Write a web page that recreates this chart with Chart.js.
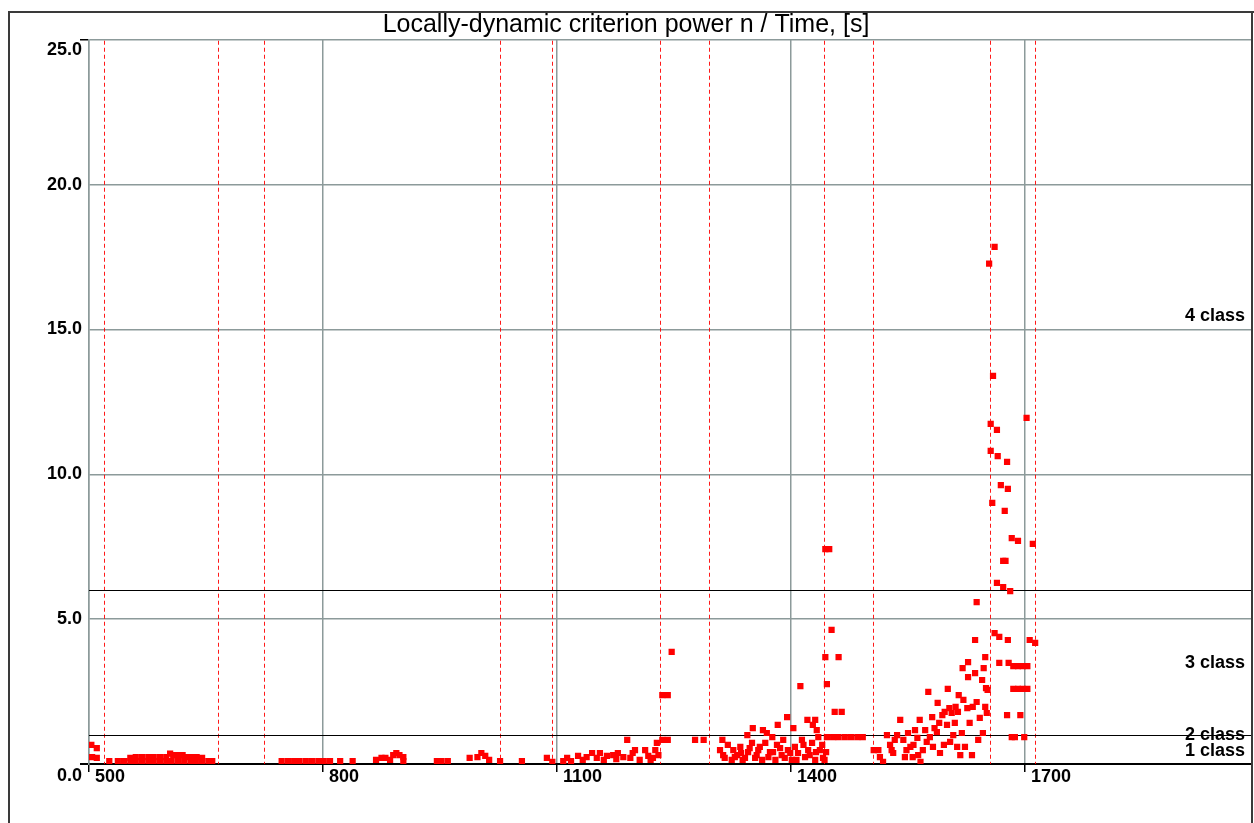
<!DOCTYPE html>
<html lang="en">
<head>
    <meta charset="UTF-8">
    <title>Locally-dynamic criterion power n / Time</title>
    <script src="https://cdn.jsdelivr.net/npm/chart.js"></script>
    <style>
        body { margin: 0; background: #fff; }
        #wrap { position: relative; width: 1254px; height: 823px; }
    </style>
</head>
<body>
    <div id="wrap"><canvas id="lcGraph" width="1254" height="823"></canvas></div>

    <script>
        // axis ticks
        const xTicks = [500, 800, 1100, 1400, 1700];
        const yTicks = [0, 5, 10, 15, 20, 25];

        // time of phase changes (red dashed lines), [s]
        const phaseBounds = [519, 665, 724, 1027, 1094, 1232, 1295, 1442, 1505, 1655, 1713];

        // class limits and class captions
        const classLimits = [1.0, 6.0];
        const classNames = ['1 class', '2 class', '3 class', '4 class'];
        const classLabelAt = [0.45, 1.0, 3.5, 15.47];

        // measured points [time, n]
        const ptsA = [[503,0.66],[510,0.55],[504,0.24],[510,0.21],[526,0.10],[537,0.10],[545,0.10],[553,0.10],[560,0.10],
            [568,0.10],[576,0.10],[583,0.10],[591,0.10],[599,0.10],[606,0.10],[614,0.10],[622,0.10],[630,0.10],[637,0.10],
            [645,0.10],[653,0.10],[658,0.10],[553,0.21],[560,0.24],[568,0.24],[576,0.24],[583,0.24],[591,0.24],[599,0.24],
            [604,0.36],[608,0.31],[614,0.31],[620,0.31],[626,0.24],[632,0.24],[638,0.24],[645,0.21]];
        const ptsB = [[747,0.10],[755,0.10],[763,0.10],[770,0.10],[778,0.10],[786,0.10],[794,0.10],[801,0.10],[809,0.10],
            [822,0.10],[838,0.10],[868,0.14],[875,0.21],[880,0.21],[886,0.14],[890,0.31],[894,0.38],[898,0.31],[903,0.24],[903,0.10]];
        const ptsC = [[946,0.10],[952,0.10],[960,0.10],[988,0.21],[998,0.24],[1003,0.38],[1008,0.28],[1013,0.14],[1027,0.10],
            [1055,0.10],[1087,0.21],[1094,0.07]];
        const ptsD = [[1108,0.10],[1113,0.21],[1118,0.10],[1127,0.28],[1133,0.14],[1138,0.24],[1145,0.38],[1151,0.21],[1155,0.38],
            [1160,0.14],[1164,0.28],[1172,0.31],[1176,0.17],[1178,0.38],[1185,0.24],[1190,0.83],[1194,0.21],[1197,0.38],[1200,0.48],
            [1206,0.14],[1213,0.48],[1217,0.28],[1220,0.14],[1223,0.21],[1226,0.48],[1228,0.73],[1230,0.31],[1235,0.83],[1242,0.83],
            [1235,2.38],[1242,2.38],[1247,3.87],[1277,0.83],[1288,0.83]];
        const ptsE = [[1309,0.48],[1312,0.83],[1313,0.31],[1315,0.21],[1319,0.66],[1324,0.14],[1326,0.48],[1328,0.24],[1331,0.31],
            [1335,0.59],[1336,0.38],[1338,0.14],[1341,0.21],[1344,1.00],[1345,0.41],[1347,0.55],[1350,0.73],[1351,1.24],[1354,0.21],
            [1356,0.31],[1358,0.48],[1360,0.59],[1363,0.14],[1364,1.17],[1367,0.73],[1369,1.07],[1371,0.24],[1373,0.41],[1376,0.93],
            [1377,0.41],[1380,0.14],[1382,0.66],[1383,1.35],[1386,0.55],[1388,0.31],[1390,0.83],[1392,0.21],[1395,1.62],[1396,0.48],
            [1399,0.38],[1401,0.14],[1403,1.24],[1405,0.59],[1407,0.14],[1409,0.38],[1412,2.69],[1414,0.83],[1416,0.66],[1418,0.24],
            [1421,1.52],[1422,0.48],[1424,0.31],[1427,0.73],[1428,1.35],[1431,0.14],[1431,1.52],[1432,0.41],[1433,1.17],[1435,0.93],
            [1437,0.48],[1440,0.66],[1441,0.21]];
        const ptsF = [[1444,7.42],[1449,7.42],[1452,4.63],[1444,3.69],[1461,3.69],[1446,2.76],[1456,1.80],[1465,1.80],[1446,0.93],
            [1454,0.93],[1461,0.93],[1469,0.93],[1477,0.93],[1485,0.93],[1492,0.93],[1443,0.14],[1445,0.41]];
        const ptsG = [[1506,0.48],[1512,0.48],[1514,0.24],[1518,0.07],[1523,1.00],[1527,0.66],[1529,0.48],[1531,0.38],[1533,0.83],
            [1536,1.00],[1540,1.52],[1544,0.83],[1546,0.24],[1548,0.48],[1550,1.07],[1553,0.59],[1556,0.24],[1557,0.66],[1559,1.17],
            [1562,0.90],[1563,0.31],[1565,1.52],[1566,0.07],[1569,0.48],[1572,1.17],[1574,0.76],[1576,2.49],[1578,0.93],[1581,1.62],
            [1582,0.59],[1584,1.24],[1587,1.10],[1588,2.11],[1590,1.42],[1591,0.38],[1594,1.69],[1596,0.66],[1597,1.80],[1600,1.35],
            [1601,2.59],[1603,1.93],[1604,0.76],[1606,1.76],[1608,1.00],[1610,1.42],[1611,1.97],[1613,0.59],[1614,1.80],[1615,2.38],
            [1617,0.31],[1619,1.07],[1620,3.31],[1621,2.21],[1623,0.59],[1626,1.93],[1627,3.52],[1627,3.00],[1629,1.42],[1632,0.31],
            [1633,1.97],[1636,4.28],[1636,3.14],[1638,2.14],[1638,5.59],[1640,0.83],[1642,1.59],[1645,2.90],[1646,1.07],[1647,3.31],
            [1649,3.69],[1649,1.97],[1650,2.62],[1651,1.76],[1652,2.56]];
        const ptsH = [[1654,17.27],[1661,17.85],[1659,13.40],[1656,11.74],[1664,11.53],[1702,11.95],[1656,10.81],[1665,10.63],
            [1677,10.43],[1669,9.63],[1678,9.50],[1658,9.01],[1674,8.74],[1683,7.80],[1691,7.70],[1710,7.60],[1672,7.01],[1675,7.01],
            [1664,6.25],[1672,6.11],[1681,5.97],[1661,4.52],[1667,4.39],[1678,4.28],[1706,4.28],[1713,4.18],[1667,3.49],[1679,3.49],
            [1685,3.38],[1691,3.38],[1697,3.38],[1703,3.38],[1685,2.59],[1691,2.59],[1697,2.59],[1703,2.59],[1677,1.69],[1694,1.69],
            [1683,0.93],[1687,0.93],[1699,0.93]];

        const allPts = [].concat(ptsA, ptsB, ptsC, ptsD, ptsE, ptsF, ptsG, ptsH).map(p => ({ x: p[0], y: p[1] }));

        const FONT = '"Liberation Sans", Arial, sans-serif';
        const GRID = '#8c9a9a';

        // frame, phase lines, class lines and y labels
        const decorations = {
            id: 'decorations',
            beforeDatasetsDraw(chart) {
                const { ctx, chartArea: a, scales: { x, y } } = chart;
                ctx.save();
                ctx.lineWidth = 1;
                ctx.strokeStyle = 'rgba(255,0,0,0.9)';
                ctx.setLineDash([4, 3]);
                phaseBounds.forEach(t => {
                    const px = Math.round(x.getPixelForValue(t)) + 0.5;
                    ctx.beginPath(); ctx.moveTo(px, a.top + 1); ctx.lineTo(px, a.bottom); ctx.stroke();
                });
                ctx.setLineDash([]);

                ctx.fillStyle = '#000';
                ctx.font = 'bold 18px ' + FONT;
                ctx.textAlign = 'right';
                ctx.textBaseline = 'middle';
                classNames.forEach((name, i) => {
                    ctx.fillText(name, a.right - 7, y.getPixelForValue(classLabelAt[i]));
                });

                ctx.strokeStyle = '#000';
                ctx.lineWidth = 1.2;
                classLimits.forEach(v => {
                    const py = Math.round(y.getPixelForValue(v)) + 0.5;
                    ctx.beginPath(); ctx.moveTo(a.left, py); ctx.lineTo(a.right, py); ctx.stroke();
                });
                ctx.restore();
            },
            afterDraw(chart) {
                const { ctx, chartArea: a, scales: { y } } = chart;
                ctx.save();
                ctx.fillStyle = '#000';
                ctx.font = 'bold 18px ' + FONT;
                ctx.textAlign = 'right';
                ctx.textBaseline = 'middle';
                yTicks.forEach((v, i) => {
                    let py = y.getPixelForValue(v);
                    if (i === 0) py = a.bottom + 12;
                    if (i === yTicks.length - 1) py = a.top + 10;
                    ctx.fillText(v.toFixed(1), a.left - 7, py);
                });
                // outer frame
                ctx.strokeStyle = '#3a3a3a';
                ctx.lineWidth = 2;
                ctx.beginPath();
                ctx.moveTo(9, 823); ctx.lineTo(9, 12); ctx.lineTo(1254, 12);
                ctx.stroke();
                ctx.beginPath();
                ctx.moveTo(a.right, 12); ctx.lineTo(a.right, 823);
                ctx.stroke();
                ctx.restore();
            }
        };

        const ctx = document.getElementById('lcGraph').getContext('2d');
        new Chart(ctx, {
            type: 'scatter',
            data: {
                datasets: [{
                    data: allPts,
                    pointStyle: 'rect',
                    pointRadius: 4.4,
                    backgroundColor: '#ff0000',
                    borderWidth: 0
                }]
            },
            options: {
                responsive: false,
                animation: false,
                layout: { autoPadding: false, padding: { left: 0, right: 2, top: 0, bottom: 0 } },
                plugins: {
                    legend: { display: false },
                    tooltip: { enabled: false },
                    title: {
                        display: true,
                        text: 'Locally-dynamic criterion power n / Time, [s]',
                        color: '#000',
                        font: { family: FONT, size: 25, weight: 'normal', lineHeight: 1.05 },
                        padding: { top: 12, bottom: 1.5 }
                    }
                },
                scales: {
                    x: {
                        type: 'linear',
                        min: 500,
                        max: 1991,
                        afterBuildTicks: s => { s.ticks = xTicks.map(v => ({ value: v })); },
                        afterFit: s => { s.height = 59; s.paddingRight = 0; },
                        grid: { color: GRID, lineWidth: 1.5, tickLength: 8, tickColor: '#000' },
                        border: { color: '#000', width: 2 },
                        ticks: {
                            align: 'start',
                            labelOffset: 6,
                            padding: -6,
                            color: '#000',
                            font: { family: FONT, size: 18, weight: 'bold' },
                            callback: v => String(v)
                        }
                    },
                    y: {
                        min: 0,
                        max: 25,
                        afterBuildTicks: s => { s.ticks = yTicks.map(v => ({ value: v })); },
                        afterFit: s => { s.width = 89; },
                        grid: {
                            color: c => c.tick && c.tick.value === 0 ? '#000' : GRID,
                            lineWidth: c => c.tick && c.tick.value === 0 ? 2 : 1.5,
                            tickLength: 9,
                            tickColor: c => c.tick && (c.tick.value === 0 || c.tick.value === 25) ? '#000' : 'rgba(0,0,0,0)'
                        },
                        border: { color: GRID, width: 1.5 },
                        ticks: { display: false }
                    }
                }
            },
            plugins: [decorations]
        });
    </script>
</body>
</html>
